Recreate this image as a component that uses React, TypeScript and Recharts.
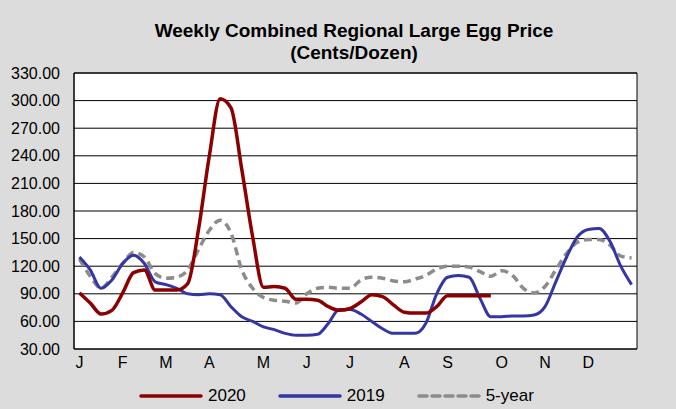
import React from "react";
import {
  LineChart,
  Line,
  XAxis,
  YAxis,
  CartesianGrid,
  ReferenceArea,
} from "recharts";

const FONT = "'Liberation Sans', Arial, sans-serif";

// weekly prices, cents per dozen (week 1..52)
const price2020 = [
  91, 80, 68, 72, 91, 113, 116, 94, 94, 94, 101, 160, 240, 302, 292, 225, 152,
  97, 98, 96, 84, 84, 83, 76, 72, 74, 81, 89, 87, 78, 70, 69, 69, 76, 88, 88,
  88, 88, 88,
];
const price2019 = [
  130, 116, 96, 105, 123, 132, 123, 103, 100, 96, 90, 89, 90, 89, 76, 65, 60,
  54, 51, 47, 45, 45, 46, 58, 73, 73, 68, 60, 52, 47, 47, 47, 58, 90, 108, 110,
  108, 85, 65, 65, 66, 66, 67, 76, 103, 130, 152, 160, 161, 147, 120, 100,
];
const fiveYear = [
  128, 109, 96, 108, 123, 135, 130, 112, 107, 108, 116, 138, 159, 170, 156,
  116, 96, 86, 83, 82, 80, 90, 96, 97, 96, 96, 105, 108, 107, 104, 103, 106,
  110, 117, 120, 120, 119, 114, 109, 115, 110, 96, 91, 98, 116, 134, 146, 149,
  149, 143, 131, 129,
];

const monthLabels = ["J", "F", "M", "A", "M", "J", "J", "A", "S", "O", "N", "D"];
const monthWeeks = [0, 4, 8, 12, 17, 21, 25, 30, 34, 39, 43, 47];
const yTicks = [30, 60, 90, 120, 150, 180, 210, 240, 270, 300, 330];

const weekCount = 52;
const weekBounds = Array.from({ length: weekCount + 1 }, (_, i) => i);
const monthTicks = monthWeeks.map((w) => w + 0.5);

const data = fiveYear.map((v, i) => ({
  x: i + 0.5,
  y2020: i < price2020.length ? price2020[i] : null,
  y2019: price2019[i],
  avg: v,
}));

const legendItems = [
  { label: "2020", color: "#8B0000", dash: "" },
  { label: "2019", color: "#3535A3", dash: "" },
  { label: "5-year", color: "#8C8C8C", dash: "8 5" },
];

export default function App() {
  return (
    <div
      style={{
        position: "absolute",
        left: 0,
        top: 0,
        width: 676,
        height: 409,
        background: "#DCDCDC",
        fontFamily: FONT,
        overflow: "hidden",
      }}
    >
      <div
        style={{
          position: "absolute",
          top: 20,
          left: 0,
          width: 708,
          textAlign: "center",
          fontWeight: "bold",
          fontSize: 19,
          lineHeight: "22px",
          color: "#000",
        }}
      >
        Weekly Combined Regional Large Egg Price
        <br />
        (Cents/Dozen)
      </div>

      <LineChart
        width={676}
        height={409}
        data={data}
        margin={{ top: 73, right: 39, bottom: 0, left: 0 }}
        style={{ position: "absolute", left: 0, top: 0 }}
      >
        <CartesianGrid vertical={false} stroke="#000" fill="#fff" />
        <XAxis
          xAxisId="w"
          type="number"
          dataKey="x"
          domain={[0, weekCount]}
          ticks={weekBounds}
          tickFormatter={() => ""}
          mirror
          height={0}
          tickSize={4}
          axisLine={{ stroke: "#000" }}
          tickLine={{ stroke: "#000" }}
          interval={0}
        />
        <XAxis
          xAxisId="m"
          type="number"
          dataKey="x"
          domain={[0, weekCount]}
          ticks={monthTicks}
          tickFormatter={(v: number) => monthLabels[monthTicks.indexOf(v)] ?? ""}
          axisLine={false}
          tickLine={false}
          height={60}
          interval={0}
          tick={{ fill: "#000", fontSize: 16, fontFamily: FONT }}
        />
        <YAxis
          domain={[30, 330]}
          ticks={yTicks}
          interval={0}
          width={74}
          tickFormatter={(v: number) => v.toFixed(2)}
          tickLine={false}
          tickSize={0}
          tickMargin={14}
          axisLine={{ stroke: "#000" }}
          tick={{ fill: "#000", fontSize: 16, fontFamily: FONT }}
        />
        <ReferenceArea
          xAxisId="w"
          x1={0}
          x2={weekCount}
          y1={30}
          y2={330}
          fill="none"
          stroke="#000"
          strokeWidth={1}
        />
        <Line
          xAxisId="w"
          type="monotone"
          dataKey="avg"
          stroke="#8C8C8C"
          strokeWidth={3.5}
          strokeDasharray="8 5"
          dot={false}
          isAnimationActive={false}
        />
        <Line
          xAxisId="w"
          type="monotone"
          dataKey="y2019"
          stroke="#3535A3"
          strokeWidth={3}
          dot={false}
          isAnimationActive={false}
        />
        <Line
          xAxisId="w"
          type="monotone"
          dataKey="y2020"
          stroke="#8B0000"
          strokeWidth={3.5}
          dot={false}
          connectNulls={false}
          isAnimationActive={false}
        />
      </LineChart>

      <div
        style={{
          position: "absolute",
          top: 386,
          left: 139,
          display: "flex",
          alignItems: "center",
          fontSize: 17,
          color: "#000",
        }}
      >
        {legendItems.map((it) => (
          <div
            key={it.label}
            style={{ display: "flex", alignItems: "center", marginRight: 32 }}
          >
            <svg width={64} height={6} style={{ marginRight: 5 }}>
              <line
                x1={2}
                y1={3}
                x2={62}
                y2={3}
                stroke={it.color}
                strokeWidth={3.5}
                strokeDasharray={it.dash || undefined}
                strokeLinecap="round"
              />
            </svg>
            <span style={{ lineHeight: "20px" }}>{it.label}</span>
          </div>
        ))}
      </div>
    </div>
  );
}
